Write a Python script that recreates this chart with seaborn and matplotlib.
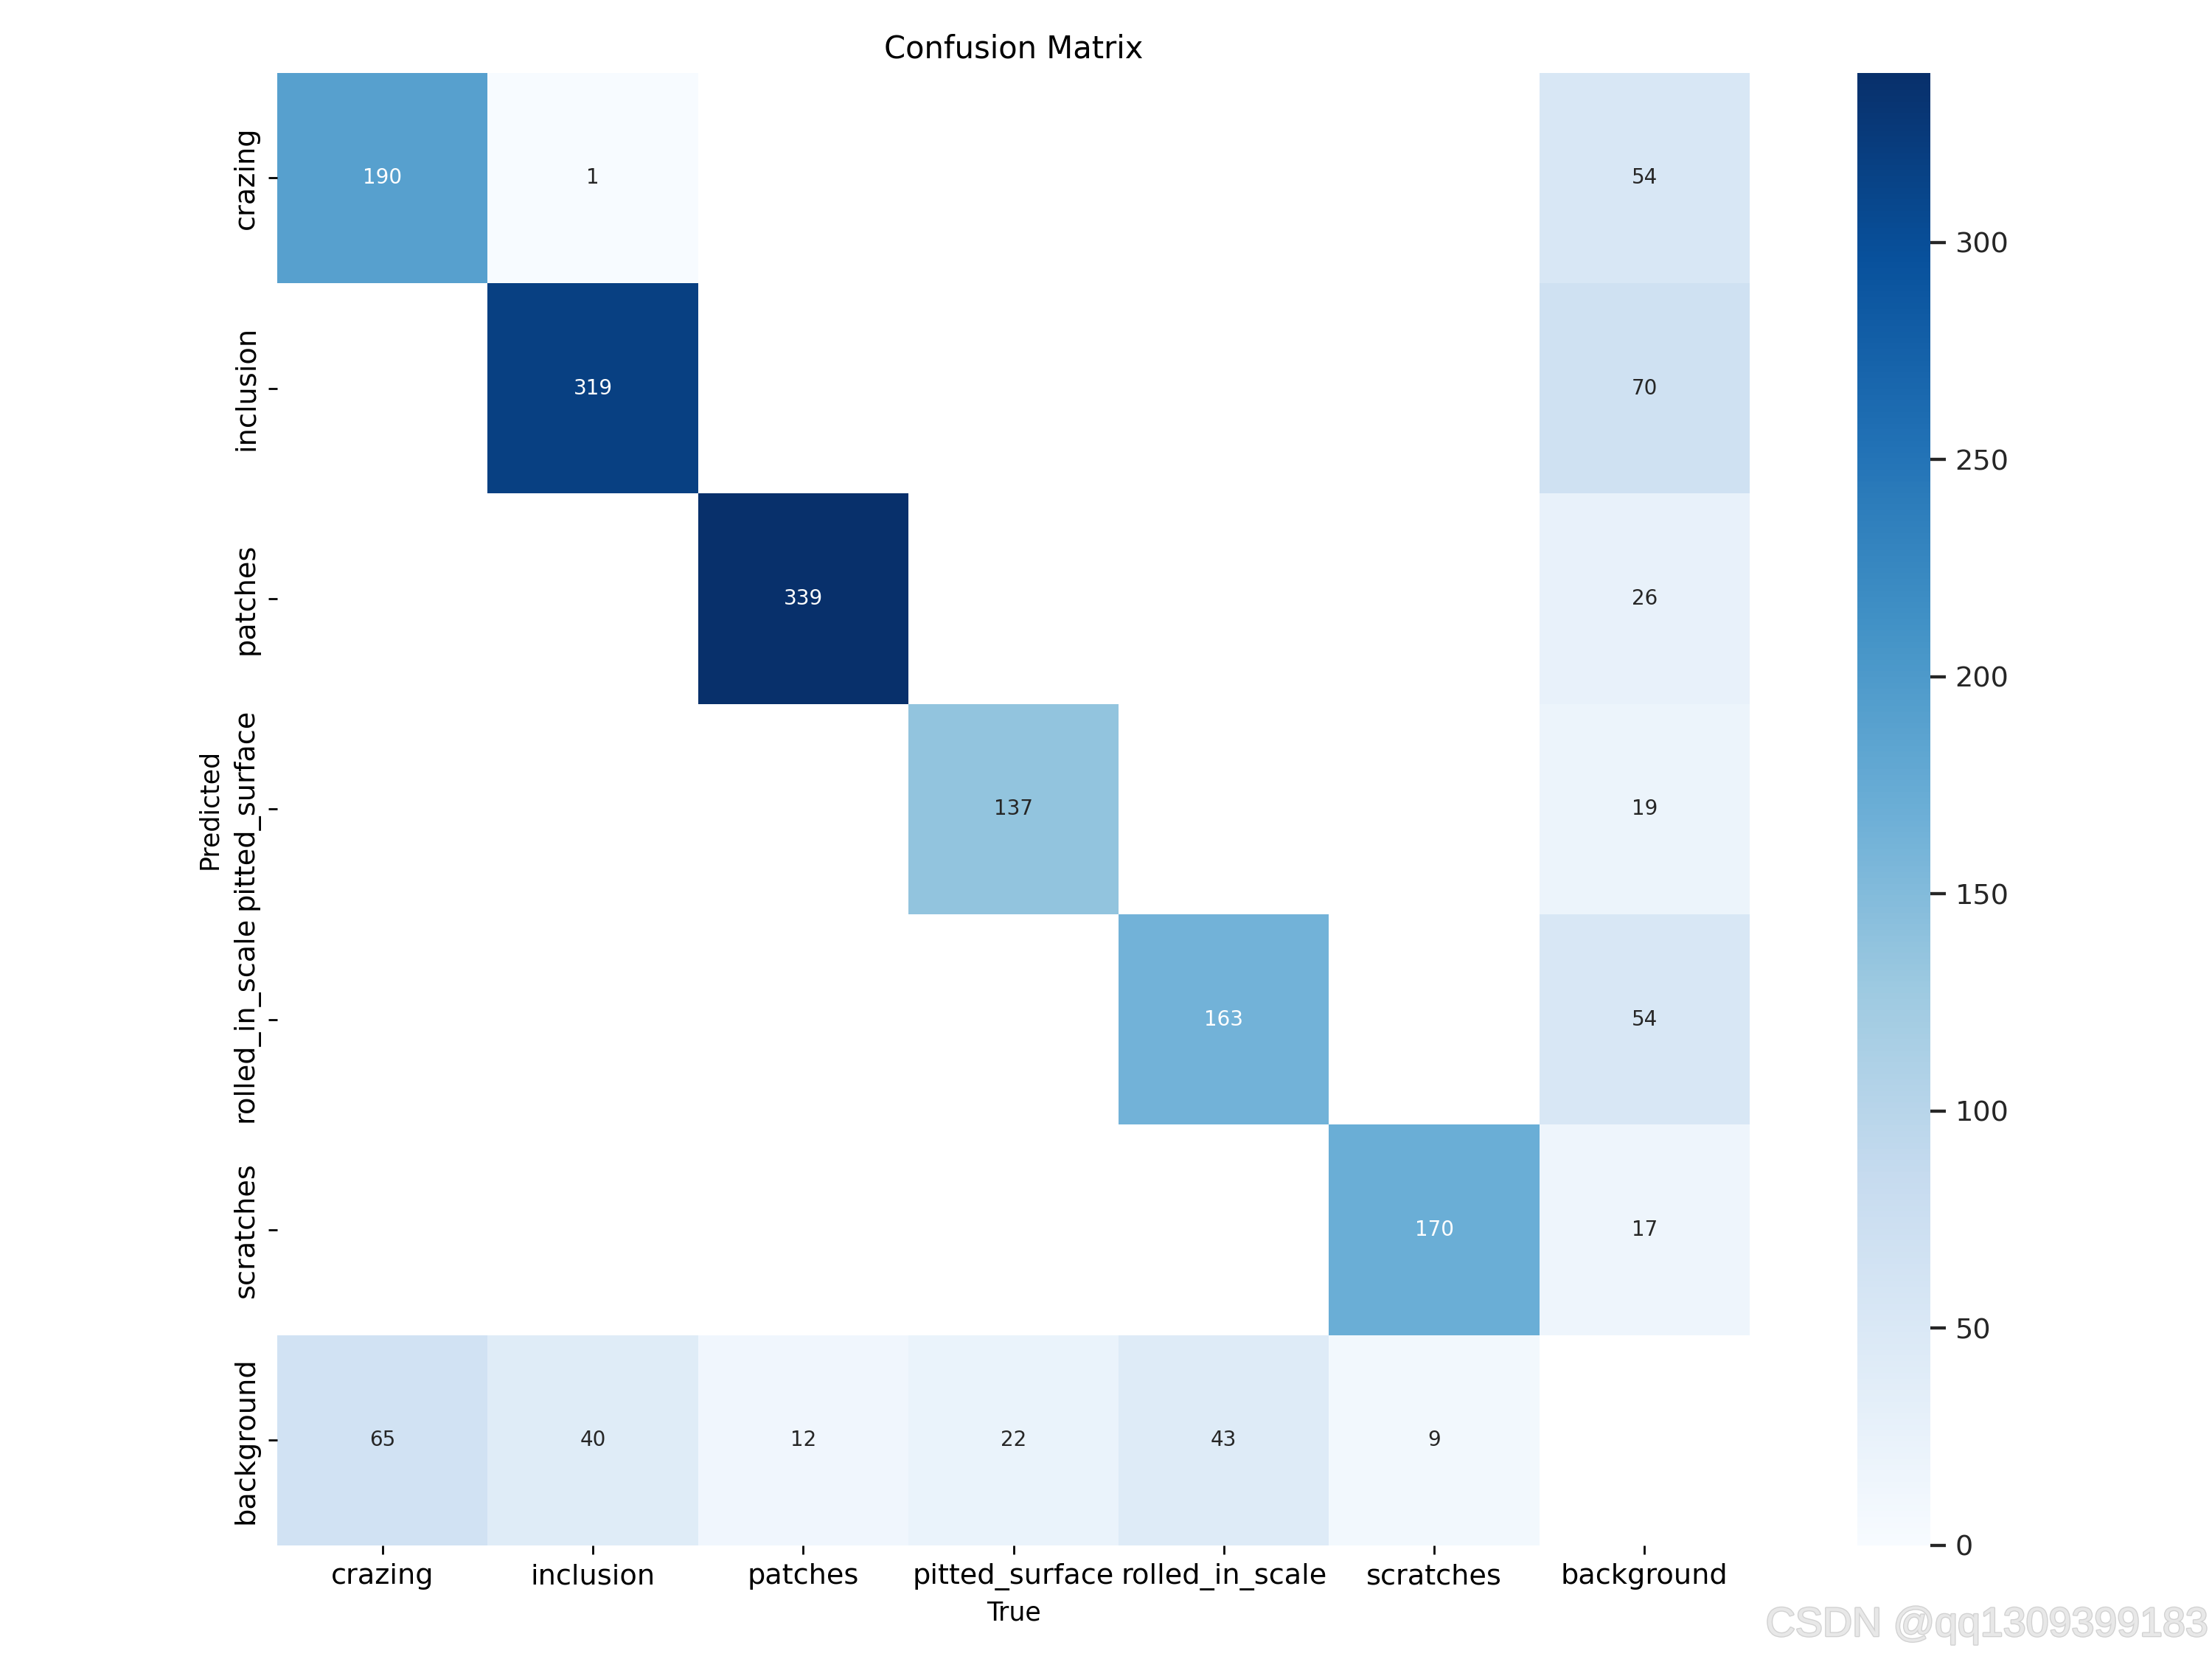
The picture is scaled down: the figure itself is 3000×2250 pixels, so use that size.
import numpy as np
import matplotlib
matplotlib.use("Agg")
import matplotlib.pyplot as plt
import matplotlib.patheffects as pe
import seaborn as sns

names = ['crazing', 'inclusion', 'patches', 'pitted_surface', 'rolled_in_scale', 'scratches', 'background']

# rows = predicted, columns = true
crazing = [190, 1, 0, 0, 0, 0, 54]
inclusion = [0, 319, 0, 0, 0, 0, 70]
patches = [0, 0, 339, 0, 0, 0, 26]
pitted_surface = [0, 0, 0, 137, 0, 0, 19]
rolled_in_scale = [0, 0, 0, 0, 163, 0, 54]
scratches = [0, 0, 0, 0, 0, 170, 17]
background = [65, 40, 12, 22, 43, 9, 0]

array = np.array([crazing, inclusion, patches, pitted_surface,
                  rolled_in_scale, scratches, background], dtype=float)
array[array < 0.005] = np.nan  # don't annotate zeros

fig, ax = plt.subplots(1, 1, figsize=(12, 9), tight_layout=True)
sns.set_theme(font_scale=1.0)
sns.heatmap(array, ax=ax, annot=True, annot_kws={"size": 8}, cmap='Blues', fmt='.0f',
            square=True, vmin=0.0, xticklabels=names, yticklabels=names).set_facecolor((1, 1, 1))
ax.tick_params(labelsize=11)
ax.set_xlabel('True')
ax.set_ylabel('Predicted')
ax.set_title('Confusion Matrix')

# watermark
fig.text(0.998, 0.0138, 'CSDN @qq1309399183', ha='right', va='baseline',
         fontsize=16, color='#e8e8e8', family=['Liberation Sans', 'DejaVu Sans'],
         path_effects=[pe.withStroke(linewidth=0.8, foreground='#d2d2d2')])

fig.savefig('out.png', dpi=250)
